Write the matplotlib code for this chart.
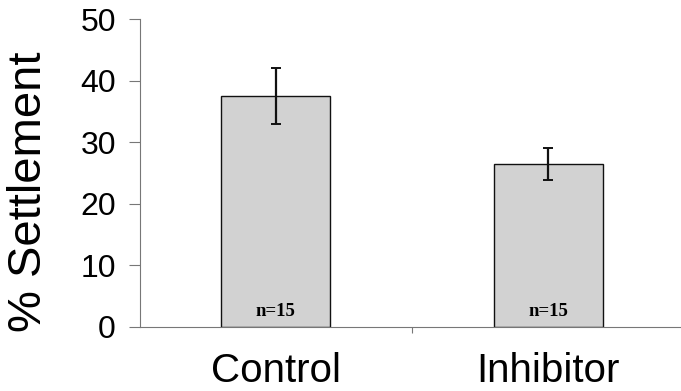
import numpy as np
import matplotlib
matplotlib.use("Agg")
import matplotlib.pyplot as plt

# data
groups = ["Control", "Inhibitor"]
settlement = [37.5, 26.5]
sem = [4.6, 2.6]
n_labels = ["n=15", "n=15"]

plt.rcParams['font.family'] = ['Liberation Sans', 'DejaVu Sans']

fig = plt.figure(figsize=(6.81, 3.91), dpi=100)
ax = fig.add_axes([0.205, 0.1637, 0.80, 0.7877])

x = np.arange(len(groups))
ax.bar(x, settlement, width=0.4, color='#d2d2d2', edgecolor='#111111',
       linewidth=1.0, zorder=2)
ax.errorbar(x, settlement, yerr=sem, fmt='none', ecolor='#111111',
            elinewidth=1.6, capsize=3.5, capthick=1.4, zorder=3)

for xi, lab in zip(x, n_labels):
    ax.text(xi, 2.5, lab, ha='center', va='center', fontsize=13.5,
            fontweight='bold', family=['Liberation Serif', 'DejaVu Serif'],
            zorder=4)

ax.set_xlim(-0.5, 1.5)
ax.set_ylim(0, 50)
ax.set_yticks([0, 10, 20, 30, 40, 50])
ax.set_xticks([0.5])
ax.set_xticklabels([])
ax.tick_params(axis='y', labelsize=23, length=8, width=0.8, color='#777777',
               pad=9)
ax.tick_params(axis='x', length=4, width=0.8, color='#777777')

# category labels under the bars
for xi, g in zip(x, groups):
    ax.text(xi, -7.2, g, ha='center', va='center', fontsize=29)

ax.set_ylabel("% Settlement", fontsize=34)
ax.yaxis.set_label_coords(-0.163, 0.44)

for side in ['top', 'right']:
    ax.spines[side].set_visible(False)
for side in ['left', 'bottom']:
    ax.spines[side].set_color('#777777')
    ax.spines[side].set_linewidth(0.8)

fig.savefig("out.png", dpi=100)
